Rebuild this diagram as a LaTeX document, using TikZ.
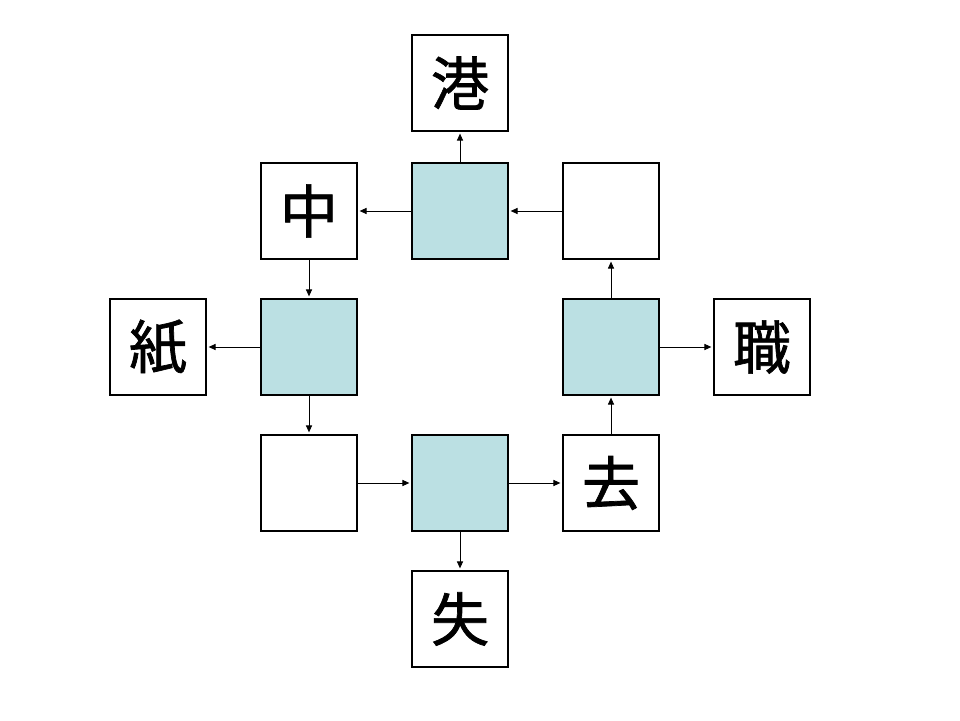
\documentclass[tikz,border=0pt]{standalone}
\usepackage{fontspec}
\newfontfamily\cjk[FakeBold=1.2]{Noto Sans CJK JP}
\usepackage{tikz}
\usetikzlibrary{positioning}
\usetikzlibrary{arrows.meta}
\definecolor{hubblue}{RGB}{187,224,227}

\begin{document}
\begin{tikzpicture}[every node/.style={font=\cjk\fontsize{33}{40}\selectfont},
    node distance=0.8cm and 1.1cm,
    cell/.style={draw, line width=0.8pt, minimum size=1.92cm, inner sep=0pt, outer sep=0pt, fill=white},
    hub/.style={cell, fill=hubblue},
    link/.style={-{Triangle[length=4pt,width=3.5pt]}, line width=0.5pt, shorten >=1.5pt}]
  \useasboundingbox (0,0) rectangle (19.2,14.4);

  % Mitte oben mit Nachbarn
  \node[hub] (hubtop) at (9.2,10.18) {};
  \node[cell, above=0.64cm of hubtop] (gang) {港};
  \node[cell, left=of hubtop] (zhong) {中};
  \node[cell, right=of hubtop] (ecktop) {};

  % linke Seite
  \node[hub, below=of zhong] (hubleft) {};
  \node[cell, left=of hubleft] (zhi) {紙};
  \node[cell, below=of hubleft] (eckbottom) {};

  % Mitte unten
  \node[hub, right=of eckbottom] (hubbottom) {};
  \node[cell, right=of hubbottom] (qu) {去};
  \node[cell, below=of hubbottom] (shi) {失};

  % rechte Seite
  \node[hub, below=of ecktop] (hubright) {};
  \node[cell, right=of hubright] (zhi2) {職};

  % Pfeile
  \draw[link] (hubtop) -- (gang);
  \draw[link] (hubtop) -- (zhong);
  \draw[link] (ecktop) -- (hubtop);
  \draw[link] (zhong) -- (hubleft);
  \draw[link] (hubleft) -- (zhi);
  \draw[link] (hubleft) -- (eckbottom);
  \draw[link] (eckbottom) -- (hubbottom);
  \draw[link] (hubbottom) -- (shi);
  \draw[link] (hubbottom) -- (qu);
  \draw[link] (qu) -- (hubright);
  \draw[link] (hubright) -- (ecktop);
  \draw[link] (hubright) -- (zhi2);

\end{tikzpicture}
\end{document}
